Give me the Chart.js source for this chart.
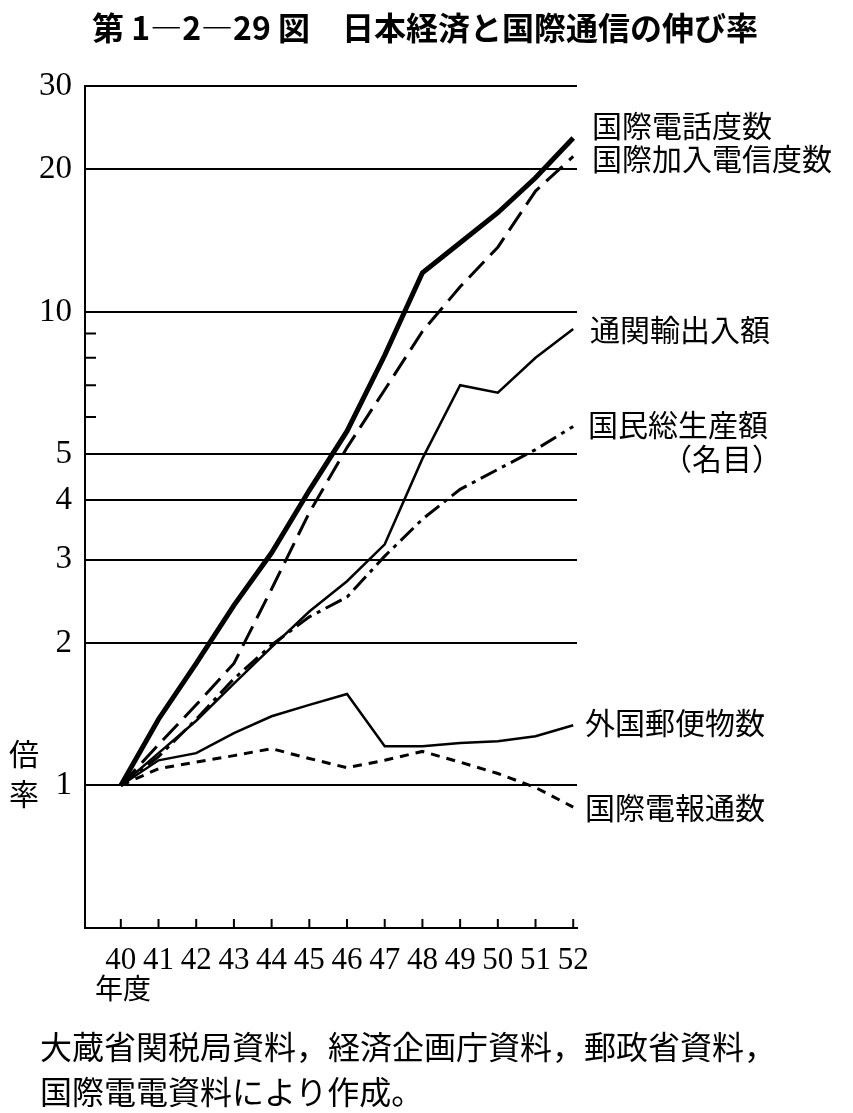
<!DOCTYPE html>
<html lang="ja">
<head>
<meta charset="utf-8">
<script src="https://cdn.jsdelivr.net/npm/chart.js@4.4.1/dist/chart.umd.min.js"></script>
<style>
  body { margin: 0; background: #fff; }
  #wrap { position: relative; width: 853px; height: 1113px; overflow: hidden; }
  #wrap canvas { position: absolute; left: 0; top: 0; }
  .t { position: absolute; white-space: nowrap; font-family: "Noto Sans CJK JP"; color: #000; line-height: 1; }
  .titulo { font-weight: 700; font-size: 32px; left: 92px; top: 10px; }
  .pie { font-size: 32px; left: 40px; }
  .serie { font-size: 30px; }
</style>
</head>
<body>
<div id="wrap">
  <canvas id="chartTasa" width="853" height="1113"></canvas>
  <div class="t titulo">第 1—2—29 図　日本経済と国際通信の伸び率</div>

  <div class="t serie" style="left:592px;top:109px">国際電話度数</div>
  <div class="t serie" style="left:592px;top:142px">国際加入電信度数</div>
  <div class="t serie" style="left:590px;top:313px">通関輸出入額</div>
  <div class="t serie" style="left:588px;top:408px">国民総生産額</div>
  <div class="t serie" style="left:662px;top:442px">（名目）</div>
  <div class="t serie" style="left:585px;top:706px">外国郵便物数</div>
  <div class="t serie" style="left:585px;top:791px">国際電報通数</div>

  <div class="t" style="left:9px;top:732px;font-size:30px;line-height:40px">倍<br>率</div>
  <div class="t" style="left:95px;top:973px;font-size:28px">年度</div>

  <div class="t pie" style="top:1029px">大蔵省関税局資料，経済企画庁資料，郵政省資料，</div>
  <div class="t pie" style="top:1074px">国際電電資料により作成。</div>
</div>

<script>
// 年度 (昭和)
const nendo = [40, 41, 42, 43, 44, 45, 46, 47, 48, 49, 50, 51, 52];

// 倍率 (40年度 = 1)
const kokusaiDenwa     = [1.00, 1.38, 1.81, 2.40, 3.10, 4.20, 5.60, 8.10, 12.1, 14.0, 16.2, 19.2, 23.3];
const kanyuDenshin     = [1.00, 1.22, 1.48, 1.81, 2.60, 3.77, 5.17, 6.85, 9.10, 11.3, 13.7, 18.0, 21.3];
const tsukanYushutsu   = [1.00, 1.17, 1.37, 1.64, 1.96, 2.33, 2.70, 3.23, 4.90, 7.00, 6.75, 8.00, 9.20];
const gnpMeimoku       = [1.00, 1.15, 1.38, 1.68, 1.98, 2.27, 2.50, 3.05, 3.65, 4.22, 4.65, 5.12, 5.73];
const gaikokuYubin     = [1.00, 1.13, 1.17, 1.29, 1.40, 1.48, 1.56, 1.21, 1.21, 1.23, 1.24, 1.27, 1.34];
const kokusaiDenpo     = [1.00, 1.085, 1.12, 1.156, 1.196, 1.14, 1.09, 1.13, 1.18, 1.12, 1.06, 0.99, 0.90];

const ticksY = [1, 2, 3, 4, 5, 10, 20, 30];
const ticksYMenores = [6, 7, 8, 9];

const puntos = serie => serie.map((v, i) => ({ x: nendo[i], y: v }));

// marcas cortas hacia dentro en los ejes
const marcasInternas = {
  id: "marcasInternas",
  afterDraw(chart) {
    const { ctx, chartArea, scales } = chart;
    ctx.save();
    ctx.strokeStyle = "#000";
    ctx.lineWidth = 2;
    ctx.beginPath();
    nendo.forEach(v => {
      const x = scales.x.getPixelForValue(v);
      ctx.moveTo(x, chartArea.bottom);
      ctx.lineTo(x, chartArea.bottom - 9);
    });
    ticksYMenores.forEach(v => {
      const y = scales.y.getPixelForValue(v);
      ctx.moveTo(chartArea.left, y);
      ctx.lineTo(chartArea.left + 11, y);
    });
    ctx.stroke();
    ctx.restore();
  }
};

const linea = (label, data, width, dash) => ({
  label,
  data: puntos(data),
  borderColor: "#000",
  borderWidth: width,
  borderDash: dash,
  pointRadius: 0,
  tension: 0,
  fill: false
});

const ctx = document.getElementById("chartTasa").getContext("2d");
new Chart(ctx, {
  type: "line",
  data: {
    datasets: [
      linea("国際電話度数", kokusaiDenwa, 5, []),
      linea("国際加入電信度数", kanyuDenshin, 3, [22, 9]),
      linea("通関輸出入額", tsukanYushutsu, 2.5, []),
      linea("国民総生産額（名目）", gnpMeimoku, 3, [18, 6, 4, 6]),
      linea("外国郵便物数", gaikokuYubin, 2.5, []),
      linea("国際電報通数", kokusaiDenpo, 3, [9, 7])
    ]
  },
  options: {
    responsive: false,
    animation: false,
    layout: { padding: { left: 0, top: 86, right: 276, bottom: 135 } },
    plugins: {
      legend: { display: false },
      tooltip: { enabled: false }
    },
    scales: {
      x: {
        type: "linear",
        min: 39.05,
        max: 52.1,
        afterBuildTicks: scale => { scale.ticks = nendo.map(v => ({ value: v })); },
        afterFit: scale => { scale.height = 50; },
        grid: { display: false },
        border: { display: true, color: "#000", width: 2 },
        ticks: {
          color: "#000",
          padding: 6,
          maxRotation: 0,
          autoSkip: false,
          font: { family: "Liberation Serif", size: 31 },
          callback: v => String(v)
        }
      },
      y: {
        type: "logarithmic",
        min: 0.5,
        max: 30,
        afterBuildTicks: scale => { scale.ticks = ticksY.map(v => ({ value: v })); },
        afterFit: scale => { scale.width = 85; },
        grid: { color: "#000", lineWidth: 2, drawTicks: false },
        border: { display: true, color: "#000", width: 2 },
        ticks: {
          color: "#000",
          padding: 13,
          autoSkip: false,
          font: { family: "Liberation Serif", size: 33 },
          callback: v => String(v)
        }
      }
    }
  },
  plugins: [marcasInternas]
});
</script>
</body>
</html>
